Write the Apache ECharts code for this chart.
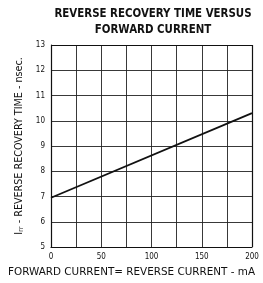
<!DOCTYPE html>
<html>
<head>
<meta charset="utf-8">
<script src="https://cdn.jsdelivr.net/npm/echarts@6/dist/echarts.min.js"></script>
<style>
  html, body { margin: 0; padding: 0; background: #fff; }
  #main { width: 263px; height: 283px; }
</style>
</head>
<body>
<div id="main"></div>
<script>
// reverse recovery time vs forward current
const currentMA = [0, 200]
const trrNs = [6.95, 10.3]
const xTicks = [0, 50, 100, 150, 200]
const yTicks = [5, 6, 7, 8, 9, 10, 11, 12, 13]

const chart = echarts.init(document.getElementById('main'))

const option = {
  animation: false,
  title: {
    text: 'REVERSE RECOVERY TIME VERSUS\nFORWARD CURRENT',
    left: 148,
    top: 1,
    textAlign: 'center',
    textStyle: {
      fontFamily: 'DejaVu Sans Condensed',
      fontWeight: 'bold',
      fontSize: 11.4,
      lineHeight: 16,
      color: '#111'
    }
  },
  grid: { left: 51, right: 11, top: 45, bottom: 36, containLabel: false, outerBoundsMode: 'none' },
  xAxis: {
    type: 'value',
    min: 0,
    max: 200,
    interval: 25,
    name: 'FORWARD CURRENT= REVERSE CURRENT - mA',
    nameLocation: 'middle',
    nameGap: 20,
    nameTextStyle: { fontFamily: 'DejaVu Sans', fontSize: 10.4, color: '#111', padding: [0, 0, 0, -40] },
    axisLine: { lineStyle: { color: '#111', width: 1.2 } },
    axisTick: { show: false },
    axisLabel: {
      fontFamily: 'DejaVu Sans Condensed',
      fontSize: 8,
      color: '#111',
      margin: 6,
      formatter: v => (xTicks.indexOf(v) >= 0 ? String(v) : '')
    },
    splitLine: { show: true, lineStyle: { color: '#222', width: 0.9 } }
  },
  yAxis: {
    type: 'value',
    min: 5,
    max: 13,
    interval: 1,
    name: '{i|I}{s|rr}{n| - REVERSE RECOVERY TIME - nsec.}',
    nameLocation: 'middle',
    nameGap: 19,
    nameTextStyle: {
      rich: {
        i: { fontFamily: 'DejaVu Sans', fontSize: 9.6, color: '#111' },
        s: { fontFamily: 'DejaVu Sans', fontSize: 7, color: '#111', verticalAlign: 'bottom', padding: [4, 0, 0, 0] },
        n: { fontFamily: 'DejaVu Sans', fontSize: 9.6, color: '#111' }
      }
    },
    axisLine: { show: true, lineStyle: { color: '#111', width: 1.2 } },
    axisTick: { show: false },
    axisLabel: {
      fontFamily: 'DejaVu Sans Condensed',
      fontSize: 8,
      color: '#111',
      margin: 6,
      formatter: v => (yTicks.indexOf(v) >= 0 ? String(v) : '')
    },
    splitLine: { show: true, lineStyle: { color: '#222', width: 0.9 } }
  },
  series: [{
    type: 'line',
    data: currentMA.map((x, i) => [x, trrNs[i]]),
    symbol: 'none',
    lineStyle: { color: '#111', width: 1.8 }
  }, {
    // right and top frame
    type: 'line',
    data: [],
    markLine: {
      silent: true,
      symbol: 'none',
      label: { show: false },
      lineStyle: { color: '#111', width: 1.2, type: 'solid' },
      data: [{ xAxis: 200 }, { yAxis: 13 }]
    }
  }]
}

chart.setOption(option)
</script>
</body>
</html>
